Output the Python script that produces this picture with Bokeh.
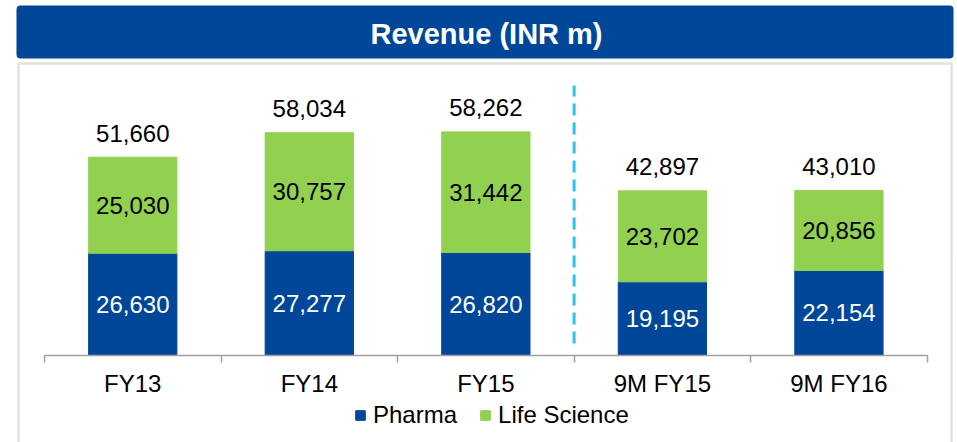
from bokeh.plotting import figure
from bokeh.models import (Range1d, ColumnDataSource, LinearAxis, FixedTicker,
                          BoxAnnotation, Label, Legend, LegendItem)
from bokeh.core.properties import value
from bokeh.embed import file_html
from bokeh.resources import INLINE

# ---------------- data ----------------
categories = ["FY13", "FY14", "FY15", "9M FY15", "9M FY16"]
pharma = [26630, 27277, 26820, 19195, 22154]
life_science = [25030, 30757, 31442, 23702, 20856]
totals = [51660, 58034, 58262, 42897, 43010]
series_names = ["Pharma", "Life Science"]
title_text = "Revenue (INR m)"
n_annual = 3  # separator after the annual figures

# ---------------- layout constants ----------------
W, H = 957, 442
OX, OY = 0, 0                 # bokeh page template has no body margin
AXIS_L, AXIS_R = 44.0, 926.7  # page px of category axis ends
AXIS_Y = 355.0                # page px of the zero line
PX_PER_VAL = 3.838 / 1000.0

FONT = "Liberation Sans"
BLUE = "#004799"
GREEN = "#92D050"
CYAN = "#2BC4F2"
GREY = "#A0A0A0"

cat_px = (AXIS_R - AXIS_L) / len(categories)


def xd(px):
    return (px - AXIS_L) / cat_px


def yd(py):
    return (AXIS_Y - py) / PX_PER_VAL


p = figure(width=W, height=H, output_backend="svg", toolbar_location=None,
           x_range=Range1d(xd(OX), xd(OX + W)),
           y_range=Range1d(yd(OY + H), yd(OY)),
           x_axis_type=None, y_axis_type=None,
           min_border=0, min_border_left=0, min_border_right=0,
           min_border_top=0, min_border_bottom=0)
p.outline_line_color = None
p.grid.visible = False
p.background_fill_color = "white"
p.border_fill_color = "white"

# title banner and frame box
p.add_layout(BoxAnnotation(left=xd(16), right=xd(953), top=yd(5), bottom=yd(58),
                           fill_color=BLUE, fill_alpha=1.0, line_color=None,
                           border_radius=4, level="underlay"))
p.add_layout(BoxAnnotation(left=xd(18), right=xd(951), top=yd(63), bottom=yd(OY + H + 20),
                           fill_color=None, fill_alpha=0, line_color=GREY, line_width=2.5,
                           level="underlay"))
p.add_layout(Label(x=xd(486), y=yd(33), text=title_text, text_color="white",
                   text_font=FONT, text_font_size="29px", text_font_style="bold",
                   text_align="center", text_baseline="middle"))

xs = [i + 0.5 for i in range(len(categories))]
src = ColumnDataSource(dict(
    x=xs, cat=categories, pharma=pharma, life=life_science, total=totals,
    pharma_mid=[v / 2 for v in pharma],
    life_mid=[a + b / 2 for a, b in zip(pharma, life_science)],
    pharma_lbl=[f"{v:,}" for v in pharma],
    life_lbl=[f"{v:,}" for v in life_science],
    total_lbl=[f"{v:,}" for v in totals],
))

rs = p.vbar_stack(["pharma", "life"], x="x", width=0.5, color=[BLUE, GREEN], source=src)

p.text(x="x", y="pharma_mid", text="pharma_lbl", source=src, text_color="white",
       text_font=value(FONT), text_font_size="24px", text_align="center",
       text_baseline="middle")
p.text(x="x", y="life_mid", text="life_lbl", source=src, text_color="black",
       text_font=value(FONT), text_font_size="24px", text_align="center",
       text_baseline="middle")
p.text(x="x", y="total", text="total_lbl", source=src, text_color="black",
       text_font=value(FONT), text_font_size="24px", text_align="center",
       text_baseline="middle", y_offset=-24)

# separator between annual and nine-month figures
p.segment(x0=[n_annual], x1=[n_annual], y0=[yd(343)], y1=[yd(85)],
          line_color=CYAN, line_width=3, line_dash="12 7")

# category axis: tick marks at the boundaries
ax_ticks = LinearAxis(fixed_location=0, ticker=FixedTicker(ticks=list(range(len(categories) + 1))),
                      bounds=(0, len(categories)))
ax_ticks.major_label_overrides = {i: "" for i in range(len(categories) + 1)}
ax_ticks.axis_line_color = GREY
ax_ticks.axis_line_width = 1.5
ax_ticks.major_tick_line_color = GREY
ax_ticks.major_tick_line_width = 1.5
ax_ticks.major_tick_out = 7
ax_ticks.major_tick_in = 0
ax_ticks.minor_tick_line_color = None
p.add_layout(ax_ticks, "below")

# category axis: labels at the centres
ax_lbl = LinearAxis(fixed_location=0, ticker=FixedTicker(ticks=xs))
ax_lbl.major_label_overrides = {x: c for x, c in zip(xs, categories)}
ax_lbl.axis_line_color = None
ax_lbl.major_tick_line_color = None
ax_lbl.minor_tick_line_color = None
ax_lbl.major_tick_out = 0
ax_lbl.major_tick_in = 0
ax_lbl.major_label_standoff = 14
ax_lbl.major_label_text_font = FONT
ax_lbl.major_label_text_font_size = "24px"
ax_lbl.major_label_text_color = "black"
p.add_layout(ax_lbl, "below")

legend = Legend(items=[LegendItem(label=series_names[i], renderers=[rs[i]]) for i in range(2)],
                location=(354, 13), orientation="horizontal",
                glyph_width=12, glyph_height=12, label_standoff=7, spacing=22,
                padding=0, margin=0, border_line_color=None, background_fill_alpha=0,
                label_text_font=FONT, label_text_font_size="24px", label_height=24,
                label_text_color="black")
p.add_layout(legend)

open("out.html", "w").write(file_html(p, INLINE))
